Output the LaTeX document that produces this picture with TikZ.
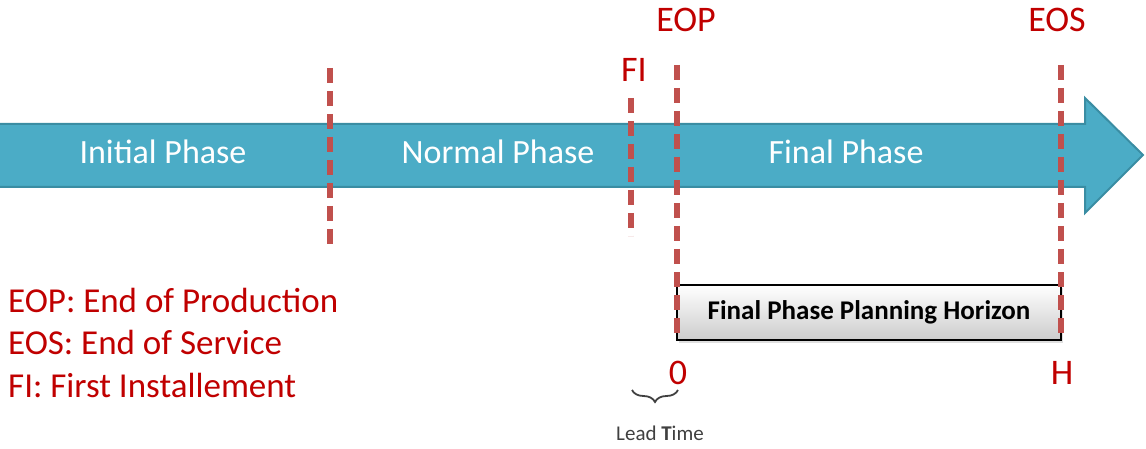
\documentclass[tikz,border=0pt]{standalone}
\usepackage{fontspec}
\setmainfont{Carlito}
\usetikzlibrary{positioning,decorations.pathreplacing,shadows}
\definecolor{phaseblue}{HTML}{4BACC6}
\definecolor{phaseedge}{HTML}{3A8DA3}
\definecolor{markred}{HTML}{C0504D}
\definecolor{labelred}{HTML}{C00000}

\tikzset{
  phase/.style={text=white, font=\fontsize{34}{34}\selectfont},
  marker/.style={text=labelred, font=\fontsize{36}{36}\selectfont},
  legend/.style={text=labelred, anchor=west, inner sep=0pt, font=\fontsize{35}{35}\selectfont},
  cutline/.style={markred, line width=6pt, dash pattern=on 15pt off 8pt},
  horizonbox/.style={draw=black, line width=1.2pt, top color=white, bottom color=black!20,
    minimum width=384pt, minimum height=55pt, inner sep=0pt, outer sep=0pt,
    font=\bfseries\fontsize{27}{27}\selectfont,
    drop shadow={shadow xshift=2pt, shadow yshift=-3pt, opacity=0.25}}
}

\begin{document}
\begin{tikzpicture}[x=1pt, y=-1pt]
    \useasboundingbox (0,0) rectangle (1146,449);

    % Zeitpfeil
    \fill[phaseblue] (0,124) -- (1085,124) -- (1085,98) -- (1143,155) -- (1085,213)
        -- (1085,187) -- (0,187) -- cycle;
    \draw[phaseedge, line width=2pt, line join=miter] (0,124) -- (1085,124) -- (1085,98)
        -- (1143,155) -- (1085,213) -- (1085,187) -- (0,187);

    % Phasen
    \node[phase] (initial) at (163,152) {Initial Phase};
    \node[phase] (normal)  at (498,152) {Normal Phase};
    \node[phase] (final)   at (846,152) {Final Phase};

    % Planungshorizont
    \node[horizonbox] (horizon) at (869,312.5) {Final Phase Planning Horizon};

    % Marken
    \node[marker] (eop) at (686,20) {EOP};
    \node[marker] (eos) at (1057,20) {EOS};
    \node[marker] (fi)  at (634,70) {FI};
    \node[marker] (zero) at (678,373) {0};
    \node[marker] (hor)  at (1062,373) {H};

    \coordinate (b1top) at (330,62);
    \coordinate (b1bot) at (330,246);
    \coordinate (fitop) at (631,98);
    \coordinate (fibot) at (631,236);
    \coordinate (eoptop) at (horizon.south west |- 0,65);
    \coordinate (eostop) at (horizon.south east |- 0,65);

    \draw[cutline, dash phase=-6pt] (b1top) -- (b1bot);
    \draw[cutline] (fitop) -- (fibot);
    \draw[cutline] (eoptop) -- (horizon.south west);
    \draw[cutline] (eostop) -- (horizon.south east);

    % Vorlaufzeit
    \coordinate (ltright) at (678,390);
    \coordinate (ltleft)  at (632,390);
    \draw[black!75, line width=1.8pt, decorate, decoration={brace, amplitude=12pt}]
        (ltright) -- (ltleft);
    \node[text=black!75, font=\fontsize{21}{21}\selectfont] (lead) at (660,433) {Lead \textbf{T}ime};

    % Legende
    \node[legend] (leop) at (8,300) {EOP: End of Production};
    \node[legend] (leos) at (8,342) {EOS: End of Service};
    \node[legend] (lfi)  at (8,385) {FI: First Installement};
\end{tikzpicture}
\end{document}
